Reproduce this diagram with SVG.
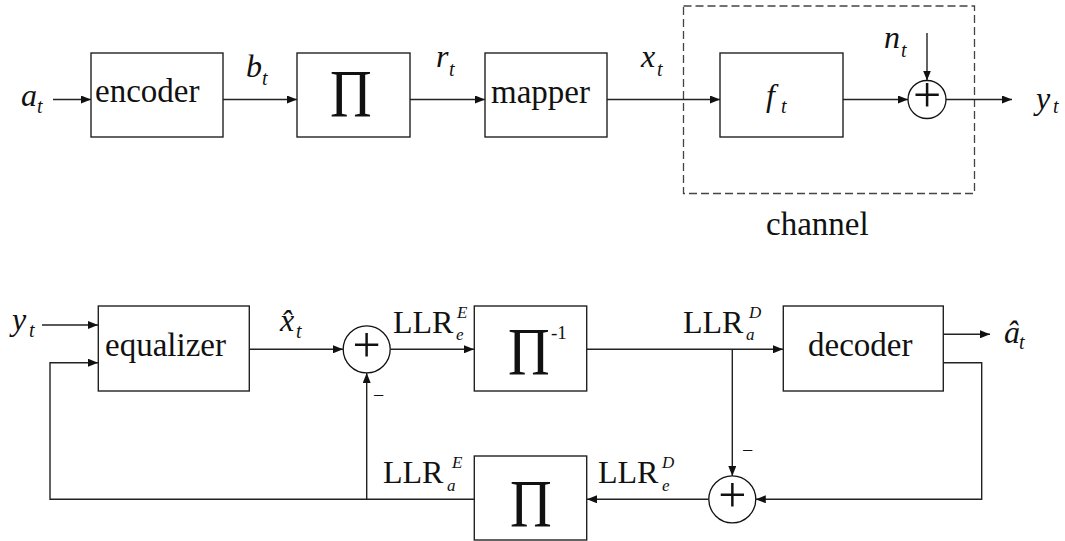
<svg xmlns="http://www.w3.org/2000/svg" width="1065" height="541" viewBox="0 0 1065 541">
<style>
.box{fill:#fff;stroke:#222;stroke-width:1.4}
.sum{fill:#fff;stroke:#111;stroke-width:1.3}
.ln{fill:none;stroke:#222;stroke-width:1.4}
.dash{fill:none;stroke:#444;stroke-width:1.3;stroke-dasharray:8 4}
.t{font-family:"Liberation Serif","Times New Roman",serif;fill:#111}
.lbl{font-size:33px}
.var{font-size:32px;font-style:italic}
.sub{font-size:20px;font-style:italic}
.llr{font-size:32px}
.sup{font-size:17px;font-style:italic}
.pi{font-size:68px}
.plus{font-size:50px}
.minus{font-size:20px}
</style>
<defs>
<marker id="ah" viewBox="0 0 10 8" refX="10" refY="4" markerWidth="10" markerHeight="8" markerUnits="userSpaceOnUse" orient="auto">
<path d="M0,0 L10,4 L0,8 z" fill="#111"/>
</marker>
</defs>

<g id="channel-region">
<rect class="dash" x="683.5" y="6" width="291" height="187.5"/>
<text class="t lbl" x="766" y="235">channel</text>
</g>

<g id="connectors">
<path class="ln" d="M53,99.5 H91" marker-end="url(#ah)"/>
<path class="ln" d="M223,99.5 H297" marker-end="url(#ah)"/>
<path class="ln" d="M410,99.5 H485" marker-end="url(#ah)"/>
<path class="ln" d="M607,99.5 H720" marker-end="url(#ah)"/>
<path class="ln" d="M843,99.5 H908" marker-end="url(#ah)"/>
<path class="ln" d="M927,33 V80.5" marker-end="url(#ah)"/>
<path class="ln" d="M946,99.5 H1012" marker-end="url(#ah)"/>
<path class="ln" d="M42,325 H98" marker-end="url(#ah)"/>
<path class="ln" d="M474,499.3 H50 V362.7 H98" marker-end="url(#ah)"/>
<path class="ln" d="M366.7,499.3 V373" marker-end="url(#ah)"/>
<path class="ln" d="M249,349.3 H343" marker-end="url(#ah)"/>
<path class="ln" d="M390.5,349.3 H474" marker-end="url(#ah)"/>
<path class="ln" d="M587,349.3 H783" marker-end="url(#ah)"/>
<path class="ln" d="M732.3,349.3 V476" marker-end="url(#ah)"/>
<path class="ln" d="M943,334.3 H990" marker-end="url(#ah)"/>
<path class="ln" d="M943,362.7 H981.7 V499.3 H755.8" marker-end="url(#ah)"/>
<path class="ln" d="M708.8,499.3 H587" marker-end="url(#ah)"/>
</g>

<g id="label-a">
<text class="t var" x="21" y="106">a</text><text class="t sub" x="37" y="113">t</text>
</g>
<g id="encoder">
<rect class="box" x="91" y="53" width="132" height="84"/>
<text class="t lbl" x="95" y="102">encoder</text>
</g>
<g id="label-b">
<text class="t var" x="246" y="77">b</text><text class="t sub" x="262" y="85">t</text>
</g>
<g id="interleaver">
<rect class="box" x="297" y="53" width="113" height="84"/>
<text class="t pi" transform="translate(330,116) scale(0.85,1)" x="0" y="0">Π</text>
</g>
<g id="label-r">
<text class="t var" x="436" y="67">r</text><text class="t sub" x="449" y="76">t</text>
</g>
<g id="mapper">
<rect class="box" x="485" y="53" width="122" height="84"/>
<text class="t lbl" x="491" y="103">mapper</text>
</g>
<g id="label-x">
<text class="t var" x="641" y="67">x</text><text class="t sub" x="657" y="76">t</text>
</g>
<g id="filter">
<rect class="box" x="720" y="53" width="123" height="84"/>
<text class="t var" x="766" y="106">f</text><text class="t sub" x="781" y="113">t</text>
</g>
<g id="label-n">
<text class="t var" x="884" y="48">n</text><text class="t sub" x="901" y="57">t</text>
</g>
<g id="sum-channel">
<circle class="sum" cx="927" cy="99.5" r="19"/>
<text class="t plus" x="927" y="112" text-anchor="middle">+</text>
</g>
<g id="label-y-out">
<text class="t var" x="1036" y="109">y</text><text class="t sub" x="1053" y="113">t</text>
</g>

<g id="label-y-in">
<text class="t var" x="12" y="330">y</text><text class="t sub" x="29" y="337">t</text>
</g>
<g id="equalizer">
<rect class="box" x="98.3" y="306" width="151" height="85"/>
<text class="t lbl" x="105" y="356">equalizer</text>
</g>
<g id="label-xhat">
<text class="t var" x="280" y="331">x̂</text><text class="t sub" x="296" y="338">t</text>
</g>
<g id="sum-equalizer">
<circle class="sum" cx="366.7" cy="349.3" r="23.5"/>
<text class="t plus" x="366.7" y="362" text-anchor="middle">+</text>
<text class="t minus" x="373" y="402">−</text>
</g>
<g id="label-LLReE">
<text class="t llr" x="393" y="333">LLR</text><text class="t sup" x="457" y="318">E</text><text class="t sup" x="456" y="340">e</text>
</g>
<g id="deinterleaver">
<rect class="box" x="474.3" y="306" width="112.4" height="85"/>
<text class="t pi" transform="translate(508,374) scale(0.85,1)" x="0" y="0">Π</text>
<text class="t" style="font-size:19px" x="551" y="339">-1</text>
</g>
<g id="label-LLRaD">
<text class="t llr" x="683" y="333">LLR</text><text class="t sup" x="749" y="318">D</text><text class="t sup" x="746" y="340">a</text>
</g>
<g id="decoder">
<rect class="box" x="783.3" y="306" width="160" height="85"/>
<text class="t lbl" x="808" y="356">decoder</text>
</g>
<g id="label-ahat">
<text class="t var" x="1004" y="343">â</text><text class="t sub" x="1019" y="349">t</text>
</g>
<g id="sum-decoder">
<circle class="sum" cx="732.3" cy="499.3" r="23.5"/>
<text class="t plus" x="732.3" y="512" text-anchor="middle">+</text>
<text class="t minus" x="742" y="457">−</text>
</g>
<g id="interleaver2">
<rect class="box" x="474.3" y="456" width="112.4" height="84"/>
<text class="t pi" transform="translate(510,526) scale(0.85,1)" x="0" y="0">Π</text>
</g>
<g id="label-LLRaE">
<text class="t llr" x="383" y="483">LLR</text><text class="t sup" x="452" y="468">E</text><text class="t sup" x="447" y="491">a</text>
</g>
<g id="label-LLReD">
<text class="t llr" x="598" y="483">LLR</text><text class="t sup" x="662" y="468">D</text><text class="t sup" x="662" y="491">e</text>
</g>
</svg>
